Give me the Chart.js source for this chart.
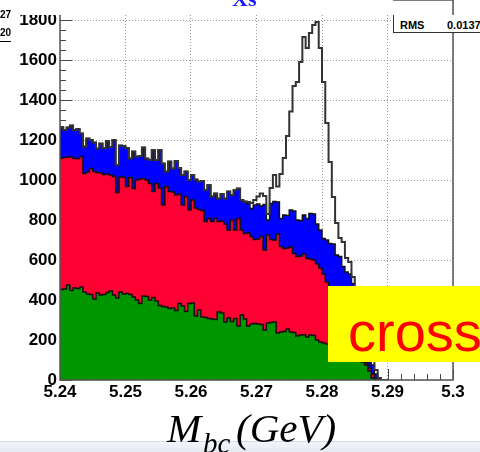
<!DOCTYPE html>
<html>
<head>
<meta charset="utf-8">
<script src="https://cdn.jsdelivr.net/npm/chart.js@4.4.1/dist/chart.umd.min.js"></script>
<style>
  body { margin: 0; width: 480px; height: 452px; overflow: hidden; background: #fff; position: relative; font-family: 'Liberation Sans', Arial, sans-serif; }
  #wrap { position: absolute; left: 0; top: 0; width: 480px; height: 452px; }
  .cover { position: absolute; left: 12px; top: 0; width: 381px; height: 15px; background: #fff; z-index: 2; }
  .xs { position: absolute; left: 232px; top: -14px; font: bold 22px 'Liberation Serif', serif; color: #1a1aff; z-index: 3; }
  .side { position: absolute; left: 0; font: bold 10px 'Liberation Sans', Arial, sans-serif; color: #000; z-index: 3; }
  .stats { position: absolute; left: 393px; top: 15px; width: 120px; height: 17px; background: #fff; border-left: 1.5px solid #333; border-bottom: 1.5px solid #333; z-index: 3; }
  .stats span { position: absolute; top: 4px; font: bold 11px 'Liberation Sans', Arial, sans-serif; color: #000; }
  .box { position: absolute; left: 328px; top: 286px; width: 160px; height: 76px; background: #ffff00; z-index: 3; overflow: hidden; }
  .box span { position: absolute; left: 20px; top: 18px; font: 56px 'Liberation Sans', Arial, sans-serif; line-height: 56px; color: #ff0000; white-space: nowrap; }
  .ttl { position: absolute; font-family: 'Liberation Serif', 'Times New Roman', serif; font-style: italic; color: #000; line-height: 1; white-space: nowrap; z-index: 5; }
  .strip { position: absolute; left: 0; top: 441px; width: 480px; height: 11px; background: linear-gradient(#f3f6fb, #e2e8f1); border-top: 1px solid #d3dbe6; z-index: 4; }
</style>
</head>
<body>
<div id="wrap"><canvas id="myChart"></canvas></div>
<div class="cover"></div>
<div class="xs">Xs</div>
<div class="side" style="top:9px">27</div>
<div class="side" style="top:27px; border-bottom:1px solid #000; padding-bottom:3px">20</div>
<div class="stats"><span style="left:6px">RMS</span><span style="left:53px">0.0137</span></div>
<div class="box"><span>cross</span></div>
<div class="ttl" style="left:167px; top:408px; font-size:41px">M</div>
<div class="ttl" style="left:203px; top:429px; font-size:29px">bc</div>
<div class="ttl" style="left:236px; top:408px; font-size:41px">(GeV)</div>
<div class="strip"></div>
<script>
const binLow = 5.24;
const binWidth = 0.0005;
const xTickLabels = ['5.24', '5.25', '5.26', '5.27', '5.28', '5.29', '5.3'];

// heights of each stacked layer, 100 bins from 5.24 to 5.29
const greenTop = [
  450, 452, 455, 475, 447, 460, 458, 465, 440, 430,
  428, 405, 435, 425, 428, 437, 445, 425, 410, 440,
  430, 432, 428, 415, 400, 383, 420, 418, 400, 413,
  395, 372, 367, 365, 358, 360, 347, 383, 370, 342,
  383, 385, 320, 350, 315, 312, 308, 305, 303, 340,
  335, 290, 310, 292, 308, 270, 325, 305, 270, 280,
  282, 280, 278, 250, 285, 287, 290, 235, 240, 242,
  255, 240, 238, 220, 225, 226, 215, 225, 222, 200,
  190, 185, 180, 175, 170, 160, 155, 145, 140, 130,
  120, 110, 100, 90, 75, 45, 10, 0, 0, 0
];
const redTop = [
  1122, 1110, 1112, 1115, 1115, 1108, 1108, 1117, 1033, 1040,
  1058, 1042, 1038, 1036, 1028, 1030, 1025, 1017, 938, 1015,
  1012, 967, 1012, 958, 1000, 1005, 1008, 1000, 983, 942,
  983, 960, 875, 967, 942, 940, 925, 930, 875, 917,
  850, 900, 860, 852, 848, 792, 808, 792, 808, 792,
  795, 780, 750, 800, 750, 808, 750, 733, 735, 717,
  703, 705, 717, 650, 725, 703, 700, 730, 667, 658,
  660, 665, 633, 617, 620, 630, 608, 605, 600, 580,
  560, 530, 490, 465, 440, 415, 390, 360, 330, 300,
  260, 220, 175, 115, 85, 60, 30, 5, 0, 0
];
const blueTop = [
  1267, 1265, 1250, 1262, 1272, 1250, 1255, 1233, 1167, 1208,
  1200, 1188, 1158, 1183, 1160, 1195, 1165, 1200, 1075, 1172,
  1170, 1160, 1108, 1142, 1117, 1120, 1162, 1108, 1100, 1150,
  1100, 1150, 1083, 1042, 1092, 1058, 1095, 1060, 1025, 1042,
  1000, 1025, 1003, 992, 995, 950, 975, 917, 933, 908,
  930, 908, 942, 925, 950, 958, 900, 892, 883, 858,
  875, 880, 870, 878, 800, 883, 892, 890, 808, 825,
  822, 850, 845, 800, 797, 825, 808, 833, 830, 780,
  750, 708, 700, 683, 680, 625, 617, 567, 540, 530,
  483, 430, 370, 300, 220, 140, 75, 30, 0, 0
];
// signal on top of the background (open histogram)
const signal = [
  0, 0, 0, 0, 0, 0, 0, 0, 0, 0,
  0, 0, 0, 0, 0, 0, 0, 0, 0, 0,
  0, 0, 0, 0, 0, 0, 0, 0, 0, 0,
  0, 0, 0, 0, 0, 0, 0, 0, 0, 0,
  0, 0, 0, 0, 0, 0, 0, 0, 0, 0,
  0, 0, 0, 0, 0, 0, 0, 0, 7, 27,
  25, 37, 63, 42, 30, 77, 133, 77, 222, 285,
  398, 492, 625, 690, 793, 890, 852, 902, 945, 1010,
  910, 782, 585, 407, 235, 160, 93, 123, 70, 60,
  32, 5, 5, 5, 5, 10, 20, 20, 10, 0
];

const total = blueTop.map((v, i) => v + signal[i]);

function steps(vals) {
  const pts = vals.map((v, i) => ({ x: binLow + i * binWidth, y: v }));
  pts.push({ x: binLow + vals.length * binWidth, y: 0 });
  return pts;
}

const frameTicks = {
  id: 'frameTicks',
  beforeDatasetsDraw(chart) {
    const { ctx, chartArea: a, scales: { x, y } } = chart;
    ctx.save();
    ctx.strokeStyle = '#444';
    ctx.lineWidth = 1;
    ctx.beginPath();
    for (let v = 0; v <= 1900; v += 50) {
      const py = Math.round(y.getPixelForValue(v)) + 0.5;
      const len = v % 200 === 0 ? 12 : 6;
      ctx.moveTo(a.left, py);
      ctx.lineTo(a.left + len, py);
    }
    for (let k = 0; k <= 30; k++) {
      const px = Math.round(x.getPixelForValue(binLow + k * 0.002)) + 0.5;
      const len = k % 5 === 0 ? 11 : 6;
      ctx.moveTo(px, a.bottom);
      ctx.lineTo(px, a.bottom - len);
    }
    ctx.stroke();
    ctx.restore();
  },
  afterDatasetsDraw(chart) {
    const { ctx, chartArea: a } = chart;
    ctx.save();
    ctx.strokeStyle = '#555';
    ctx.lineWidth = 1.5;
    ctx.strokeRect(a.left, a.top, a.right - a.left, a.bottom - a.top);
    ctx.restore();
  }
};

const ctx = document.getElementById('myChart');
const line = (data, color, fill, width) => ({
  data: steps(data),
  stepped: 'after',
  borderColor: color,
  borderWidth: width,
  backgroundColor: fill || 'transparent',
  fill: fill ? 'origin' : false,
  pointRadius: 0,
  tension: 0
});

new Chart(ctx, {
  type: 'line',
  data: {
    datasets: [
      line(total, '#333', null, 2),
      line(greenTop, '#111', '#009600', 1.5),
      line(redTop, '#111', '#ff0033', 1.5),
      line(blueTop, '#111', '#0000ff', 1.5)
    ]
  },
  options: {
    responsive: true,
    maintainAspectRatio: false,
    animation: false,
    layout: { padding: { left: 0, right: 27, top: 0, bottom: 0 } },
    plugins: { legend: { display: false }, tooltip: { enabled: false } },
    scales: {
      x: {
        type: 'linear',
        min: 5.24,
        max: 5.3,
        afterFit: (s) => { s.height = 72; s.paddingLeft = 0; s.paddingRight = 0; },
        grid: { color: '#999', drawTicks: false },
        border: { display: false, dash: [1, 2] },
        ticks: {
          stepSize: 0.01,
          padding: 2,
          color: '#000',
          maxRotation: 0,
          font: { size: 17, weight: 'bold', family: "'Liberation Sans', Arial, sans-serif" },
          callback: (v) => xTickLabels[Math.round((v - 5.24) / 0.01)]
        }
      },
      y: {
        min: 0,
        max: 1900,
        afterFit: (s) => { s.width = 60; s.paddingTop = 0; s.paddingBottom = 0; },
        grid: { color: '#999', drawTicks: false },
        border: { display: false, dash: [1, 2] },
        ticks: {
          stepSize: 200,
          includeBounds: false,
          padding: 3,
          color: '#000',
          font: { size: 17, weight: 'bold', family: "'Liberation Sans', Arial, sans-serif" },
          callback: (v) => String(v)
        }
      }
    }
  },
  plugins: [frameTicks]
});
</script>
</body>
</html>
